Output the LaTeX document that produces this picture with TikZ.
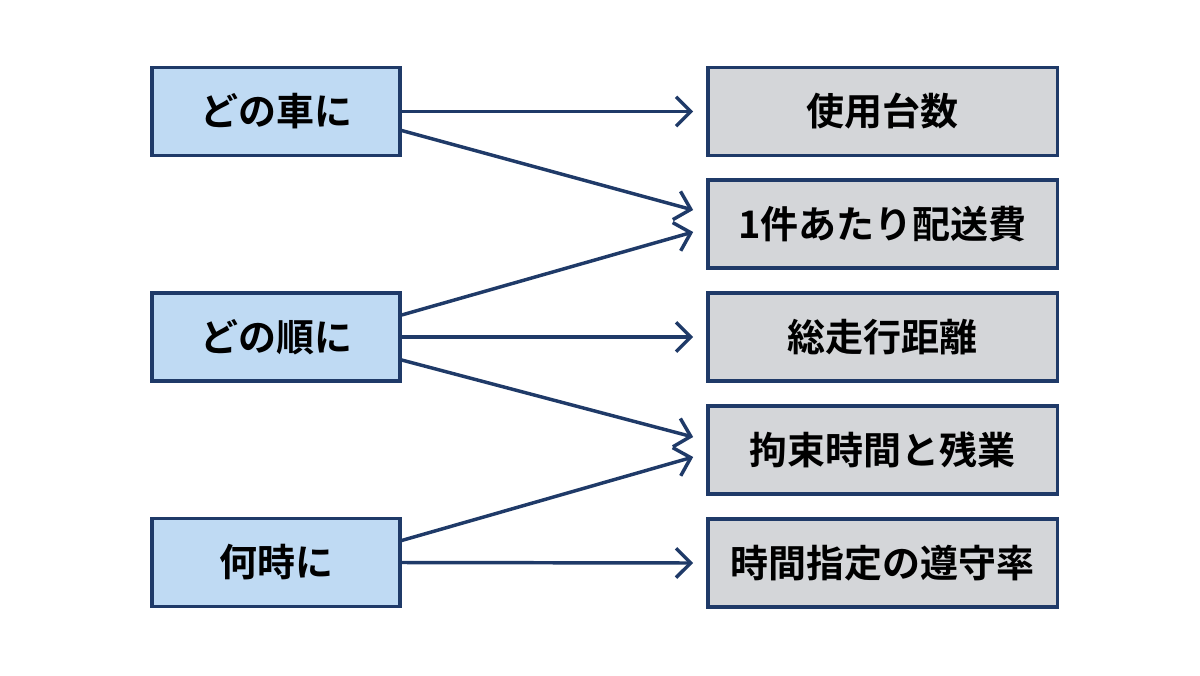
\documentclass[tikz,border=0pt]{standalone}
\usepackage{fontspec}
\newfontfamily\jp{Noto Sans CJK JP Bold}
\usetikzlibrary{arrows.meta,calc}
\definecolor{navy}{HTML}{1F3A68}
\definecolor{lb}{HTML}{BFDAF3}
\definecolor{gr}{HTML}{D4D6D9}
\begin{document}
\begin{tikzpicture}[x=0.75pt,y=-0.75pt,
 box/.style={draw=navy,line width=2.5pt,minimum height=66pt,inner sep=0pt,font=\jp\fontsize{28.5}{32}\selectfont,text=black},
 lbox/.style={box,fill=lb,minimum width=186pt},
 rbox/.style={box,fill=gr,minimum width=262pt},
 arr/.style={draw=navy,line width=2.6pt,-{Straight Barb[length=11pt,width=22pt,line width=2.6pt]}}]
\useasboundingbox (0,0) rectangle (1200,675);
\node[lbox] (l1) at (276,111.5) {どの車に};
\node[lbox] (l2) at (276,337) {どの順に};
\node[lbox] (l3) at (276,562.5) {何時に};
\node[rbox] (r1) at (882.5,111.5) {使用台数};
\node[rbox] (r2) at (882.5,224) {1件あたり配送費};
\node[rbox] (r3) at (882.5,337) {総走行距離};
\node[rbox] (r4) at (882.5,450) {拘束時間と残業};
\node[rbox] (r5) at (882.5,563) {時間指定の遵守率};
\draw[arr] (l1.east) -- ($(r1.west)+(-13,0)$);
\draw[arr] ($(l1.east)+(0,19)$) -- ($(r2.west)+(-13,-14)$);
\draw[arr] ($(l2.east)+(0,-22)$) -- ($(r2.west)+(-13,8)$);
\draw[arr] (l2.east) -- ($(r3.west)+(-13,0)$);
\draw[arr] ($(l2.east)+(0,23)$) -- ($(r4.west)+(-13,-13)$);
\draw[arr] ($(l3.east)+(0,-22)$) -- ($(r4.west)+(-13,7)$);
\draw[arr] (l3.east) -- ($(r5.west)+(-13,0)$);
\end{tikzpicture}
\end{document}
